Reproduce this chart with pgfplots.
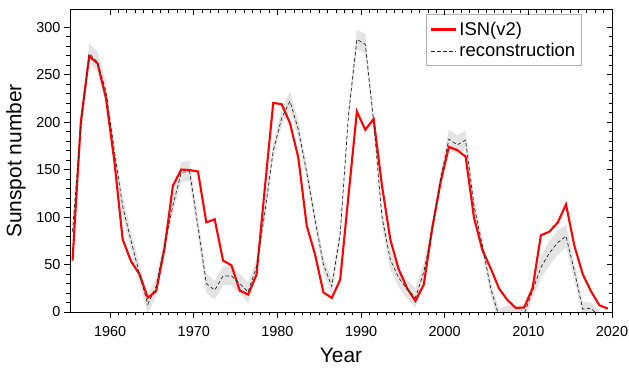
\documentclass[border=0pt]{standalone}
\usepackage{pgfplots}
\usepackage{pgfplotstable}
\pgfplotsset{compat=1.18}
\usepgfplotslibrary{fillbetween}
\usepackage{fontspec}
\setmainfont{Liberation Sans}

\pgfplotstableread{
year isn
1955.5 54.2
1956.5 200.7
1957.5 269.3
1958.5 261.7
1959.5 225.1
1960.5 159.0
1961.5 76.4
1962.5 53.4
1963.5 39.9
1964.5 15.0
1965.5 22.0
1966.5 66.8
1967.5 132.9
1968.5 150.0
1969.5 149.4
1970.5 148.0
1971.5 94.4
1972.5 97.6
1973.5 54.1
1974.5 49.2
1975.5 22.5
1976.5 18.4
1977.5 39.3
1978.5 131.0
1979.5 220.1
1980.5 218.9
1981.5 198.9
1982.5 162.4
1983.5 91.0
1984.5 60.5
1985.5 20.6
1986.5 14.8
1987.5 33.9
1988.5 123.0
1989.5 211.1
1990.5 191.8
1991.5 203.3
1992.5 133.0
1993.5 76.1
1994.5 44.9
1995.5 25.1
1996.5 11.6
1997.5 28.9
1998.5 88.3
1999.5 136.3
2000.5 173.9
2001.5 170.4
2002.5 163.6
2003.5 99.3
2004.5 65.3
2005.5 45.8
2006.5 24.7
2007.5 12.6
2008.5 4.2
2009.5 4.8
2010.5 24.9
2011.5 80.8
2012.5 84.5
2013.5 94.0
2014.5 113.3
2015.5 69.8
2016.5 39.8
2017.5 21.7
2018.5 7.0
2019.5 3.6
}\isndata

\pgfplotstableread{
year rec lo hi
1955.5 85 74 96
1956.5 195 185 206
1957.5 272 262 283
1958.5 263 253 274
1959.5 232 222 243
1960.5 170 160 180
1961.5 111 101 121
1962.5 75 65 85
1963.5 40 30 50
1964.5 8 -2 18
1965.5 27 17 37
1966.5 70 62 78
1967.5 112 104 121
1968.5 147 137 158
1969.5 148 138 159
1970.5 90 80 100
1971.5 30 20 40
1972.5 23 13 33
1973.5 38 28 48
1974.5 38 28 48
1975.5 30 19 40
1976.5 21 10 31
1977.5 48 40 56
1978.5 105 97 113
1979.5 170 162 178
1980.5 204 196 213
1981.5 222 212 232
1982.5 192 184 201
1983.5 147 139 155
1984.5 97 89 105
1985.5 50 42 58
1986.5 27 18 35
1987.5 82 74 90
1988.5 208 200 216
1989.5 287 277 297
1990.5 282 272 293
1991.5 201 193 210
1992.5 100 90 110
1993.5 55 45 65
1994.5 36 26 46
1995.5 24 14 34
1996.5 15 5 25
1997.5 42 32 52
1998.5 85 77 93
1999.5 140 132 148
2000.5 182 172 192
2001.5 176 166 186
2002.5 181 171 191
2003.5 112 102 122
2004.5 70 62 78
2005.5 25 17 33
2006.5 -5 -13 3
2007.5 -2 -10 7
2008.5 -2 -10 7
2009.5 -2 -10 7
2010.5 22 14 30
2011.5 47 35 59
2012.5 62 49 75
2013.5 73 60 86
2014.5 80 68 92
2015.5 43 33 53
2016.5 3 -5 11
2017.5 4 -2 10
2018.5 -5 -11 1
}\recdata

\begin{document}
\begin{tikzpicture}
\pgfplotsset{
  common/.style={
    scale only axis, width=542bp, height=302bp,
    xmin=1955.2, xmax=2020, ymin=0, ymax=318,
    xtick={1960,1970,...,2020}, ytick={0,50,...,300},
    minor x tick num=9, minor y tick num=4,
    axis line style={line width=1bp, black},
    tick style={black, line width=0.9bp},
  },
  myleg/.style={legend image code/.code={\draw[##1] (0bp,0bp) -- (25bp,0bp);}},
}
\begin{axis}[common,
  tick align=outside, xtick pos=left, ytick pos=left,
  major tick length=6bp, minor tick length=3.5bp,
  /pgf/number format/assume math mode=true,
  /pgf/number format/1000 sep={},
  ticklabel style={font=\fontsize{14.5}{17}\selectfont},
  xticklabel style={yshift=-4.5bp},
  xlabel={Year}, ylabel={Sunspot number},
  label style={font=\fontsize{21}{25}\selectfont},
  xlabel style={at={(axis description cs:0.5,0)}, anchor=base, yshift=-50bp},
  ylabel style={at={(axis description cs:0,0.5)}, anchor=center, xshift=0bp, yshift=54bp},
  legend style={at={(axis description cs:0.944,0.986)}, anchor=north east,
    draw=gray!60, line width=0.8bp, font=\fontsize{18.5}{21}\selectfont,
    inner xsep=4bp, inner ysep=5.5bp, row sep=2.5bp},
  legend cell align=left,
]
\addplot[draw=none, name path=upper, forget plot] table[x=year, y=hi] {\recdata};
\addplot[draw=none, name path=lower, forget plot] table[x=year, y=lo] {\recdata};
\addplot[fill=gray!22, draw=none, forget plot] fill between[of=upper and lower];
\addplot[red, line width=2.1bp, myleg] table[x=year, y=isn] {\isndata};
\addlegendentry{ISN(v2)}
\addplot[black!85, line width=0.7bp, dash pattern=on 3.5bp off 2.5bp, myleg] table[x=year, y=rec] {\recdata};
\addlegendentry{reconstruction}
\end{axis}
\begin{axis}[common,
  tick align=inside, xtick pos=right, ytick pos=right,
  major tick length=5bp, minor tick length=2.7bp,
  xticklabels={}, yticklabels={},
]
\end{axis}
\pgfresetboundingbox
\path[use as bounding box] ([shift={(-70bp,-58bp)}]current axis.south west) rectangle ([shift={(17bp,10bp)}]current axis.north east);
\end{tikzpicture}
\end{document}
